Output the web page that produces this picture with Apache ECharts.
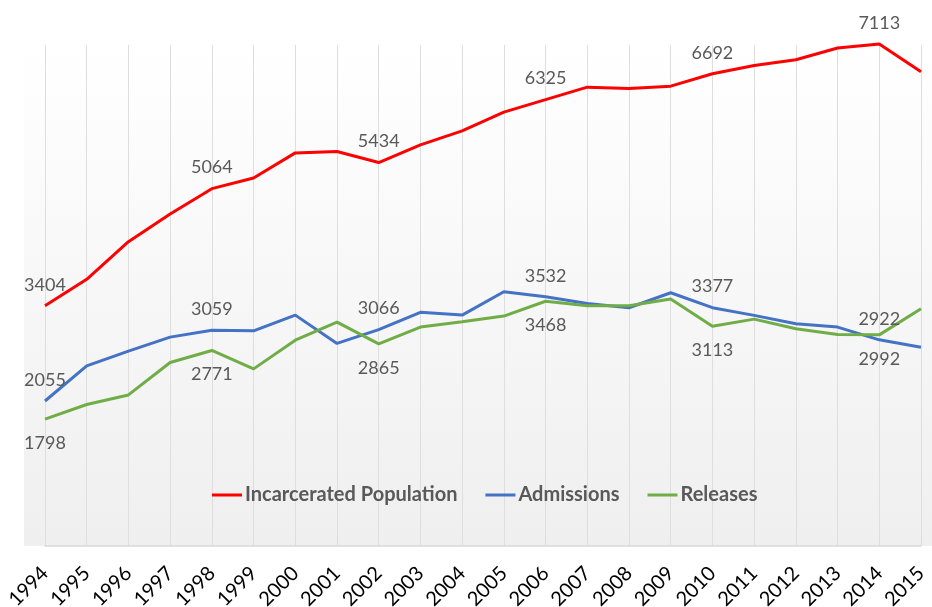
<!DOCTYPE html>
<html lang="en">
	<head>
		<meta charset="UTF-8">
		<title>Incarcerated Population, Admissions and Releases</title>
		<script src="https://cdn.jsdelivr.net/npm/echarts@6/dist/echarts.min.js"></script>
		<style>
			html, body { margin: 0; padding: 0; background: #fff; }
			#chart { width: 932px; height: 607px; }
		</style>
	</head>
	<body>
		<div id="chart"></div>

		<script>
			// 연도
			const years = ['1994', '1995', '1996', '1997', '1998', '1999', '2000', '2001', '2002', '2003', '2004',
				'2005', '2006', '2007', '2008', '2009', '2010', '2011', '2012', '2013', '2014', '2015'];

			// 수용 인원
			const incarcerated = [3404, 3779, 4312, 4705, 5064, 5216, 5571, 5590, 5434, 5684, 5883,
				6148, 6325, 6503, 6483, 6517, 6692, 6810, 6891, 7057, 7113, 6720];

			// 입소
			const admissions = [2055, 2553, 2761, 2960, 3059, 3050, 3272, 2871, 3066, 3311, 3272,
				3603, 3532, 3438, 3376, 3589, 3377, 3268, 3149, 3102, 2922, 2818];

			// 출소
			const releases = [1798, 2005, 2141, 2601, 2771, 2510, 2917, 3173, 2865, 3102, 3177,
				3258, 3468, 3404, 3404, 3499, 3113, 3215, 3078, 2998, 2992, 3362];

			const font = 'Lato';

			// 4년마다 값 표시
			function withLabels(arr, pos, dist) {
				return arr.map((v, i) => ({
					value: v,
					label: { show: i % 4 === 0, position: pos, distance: dist }
				}));
			}

			function makeSeries(name, color, arr, pos, dist) {
				return {
					name: name,
					type: 'line',
					data: withLabels(arr, pos, dist),
					symbol: 'circle',
					symbolSize: 0.1,
					showSymbol: true,
					clip: false,
					lineStyle: { color: color, width: 3 },
					itemStyle: { color: color },
					label: {
						color: '#595959',
						fontFamily: font,
						fontSize: 18
					},
					emphasis: { disabled: true }
				};
			}

			const chart = echarts.init(document.getElementById('chart'));

			const option = {
				animation: false,
				backgroundColor: '#fff',
				graphic: [
					{
						type: 'rect',
						z: -10,
						silent: true,
						shape: { x: 24, y: 47, width: 908, height: 499 },
						style: {
							fill: {
								type: 'linear',
								x: 0, y: 0, x2: 0, y2: 1,
								colorStops: [
									{ offset: 0, color: '#ffffff' },
									{ offset: 1, color: '#efefef' }
								]
							}
						}
					}
				],
				grid: {
					left: 45,
					right: 11,
					top: 45,
					bottom: 61,
					containLabel: false,
					outerBoundsMode: 'none'
				},
				legend: {
					left: 207,
					top: 480,
					icon: 'rect',
					itemWidth: 30,
					itemHeight: 3,
					itemGap: 28,
					textStyle: {
						color: '#595959',
						fontFamily: font,
						fontSize: 20,
						fontWeight: 'bold',
						padding: [0, 0, 0, -2]
					}
				},
				xAxis: {
					type: 'category',
					data: years,
					boundaryGap: false,
					axisLine: { lineStyle: { color: '#d9d9d9', width: 1.5 } },
					axisTick: { show: false },
					axisLabel: {
						interval: 0,
						rotate: 45,
						margin: 24,
						color: '#000',
						fontFamily: font,
						fontSize: 20
					},
					splitLine: {
						show: true,
						lineStyle: { color: '#dedede', width: 1 }
					}
				},
				yAxis: {
					type: 'value',
					min: 0,
					max: 7100,
					show: false,
					splitLine: { show: false }
				},
				series: [
					makeSeries('Incarcerated Population', '#ff0000', incarcerated, 'top', 12),
					makeSeries('Admissions', '#4472c4', admissions, 'top', 12),
					makeSeries('Releases', '#70ad47', releases, 'bottom', 15)
				]
			};

			chart.setOption(option);
		</script>
	</body>
</html>
